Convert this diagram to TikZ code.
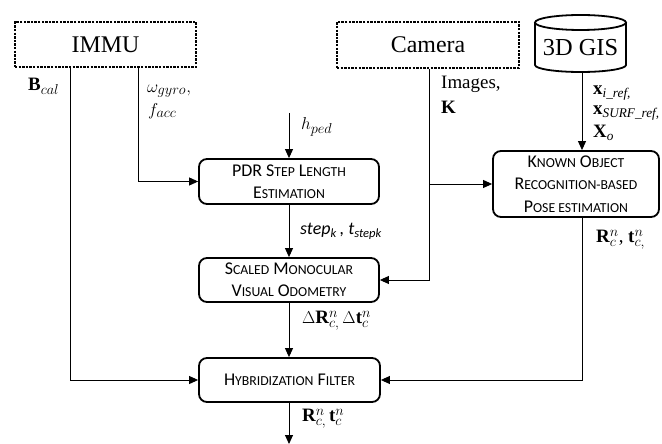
\documentclass[tikz,border=0pt]{standalone}
\usepackage{fontspec}
\setmainfont{Liberation Serif}
\setsansfont{Carlito}
\usetikzlibrary{arrows.meta}
\newcommand\Sc[1]{{\fontsize{13.8}{16}\selectfont\uppercase{#1}}}
\begin{document}
\begin{tikzpicture}[x=1bp,y=-1bp,
  src/.style={draw, line width=2.6bp, dash pattern=on 2.4bp off 1.2bp, font=\fontsize{24}{28}\selectfont},
  proc/.style={draw, line width=1.8bp, rounded corners=8bp, align=center, font=\sffamily\fontsize{18}{22.5}\selectfont},
  conn/.style={line width=0.9bp},
  arr/.style={conn, -{Triangle[length=9bp,width=8bp]}},
  lab/.style={anchor=west, inner sep=0pt, font=\fontsize{19}{22}\selectfont},
]
\useasboundingbox (0,0) rectangle (662,444);
% sources
\node[src, minimum width=181bp, minimum height=45bp] (immu) at (105.5,44.5) {IMMU};
\node[src, minimum width=182bp, minimum height=46bp] (cam) at (428,45) {Camera};
\draw[line width=1.8bp] (535,22.5) -- (535,65) arc[start angle=180, end angle=360, x radius=45.5bp, y radius=7bp] -- (626,22.5);
\draw[line width=1.8bp] (580.5,22.5) ellipse [x radius=45.5bp, y radius=7.5bp];
\node[font=\fontsize{24.5}{28}\selectfont, inner sep=0pt] (gis) at (580.5,48) {3D GIS};
\coordinate (gisb) at (582,72);
% processes
\node[proc, minimum width=180bp, minimum height=45bp] (pdr) at (289,181.5) {PDR S\Sc{tep} L\Sc{ength}\\E\Sc{stimation}};
\node[proc, minimum width=180bp, minimum height=44bp] (smvo) at (289,280) {S\Sc{caled} M\Sc{onocular}\\V\Sc{isual} O\Sc{dometry}};
\node[proc, minimum width=181bp, minimum height=44bp] (hyb) at (289.5,380) {H\Sc{ybridization} F\Sc{ilter}};
\node[proc, minimum width=166bp, minimum height=66bp] (kor) at (576,184) {K\Sc{nown} O\Sc{bject}\\R\Sc{ecognition-based}\\P\Sc{ose estimation}};
% helper coordinates
\coordinate (bx) at (70,0);
\coordinate (gx) at (138,0);
\coordinate (cx) at (429,0);
\coordinate (hp) at (289,113);
\coordinate (out) at (289,444);
% connectors
\draw[arr] (immu.south -| bx) |- (hyb.west);
\draw[arr] (immu.south -| gx) |- (pdr.west);
\draw[arr] (hp) -- (pdr.north);
\draw[arr] (pdr.south) -- (smvo.north);
\draw[arr] (smvo.south) -- (smvo.south |- hyb.north);
\draw[arr] (hyb.south -| out) -- (out);
\draw[arr] (cam.south -| cx) |- (smvo.east);
\draw[arr] (cx |- kor.west) -- (kor.west);
\draw[arr] (gisb) -- (gisb |- kor.north);
\draw[arr] (gisb |- kor.south) |- (hyb.east);
% labels
\node[lab] (l1) at (28,86) {$\mathbf{B}_{cal}$};
\node[lab] (l2) at (147,91) {$\omega_{gyro},$};
\node[lab] (l3) at (148,111) {$f_{acc}$};
\node[lab] (l4) at (301,127) {$h_{ped}$};
\node[lab, font=\sffamily\itshape\fontsize{18}{20}\selectfont] (l5) at (300,231) {step\textsubscript{k}\,, t\textsubscript{stepk}};
\node[lab] (l6) at (441,84) {Images,};
\node[lab] (l7) at (441,107) {\textbf{K}};
\node[lab] (l8) at (593,93) {\textbf{x}\textsubscript{\itshape i\_ref,}};
\node[lab] (l9) at (593,113) {\textbf{x}\textsubscript{\itshape SURF\_ref,}};
\node[lab] (l10) at (593,133) {\textbf{X}\textsubscript{\itshape o}};
\node[lab] (l11) at (596,240) {$\mathbf{R}_c^n$, $\mathbf{t}_{c,}^n$};
\node[lab] (l12) at (302,321) {$\Delta\mathbf{R}_{c,}^n\,\Delta\mathbf{t}_c^n$};
\node[lab] (l13) at (302,419) {$\mathbf{R}_{c,}^n\,\mathbf{t}_c^n$};
\end{tikzpicture}
\end{document}
